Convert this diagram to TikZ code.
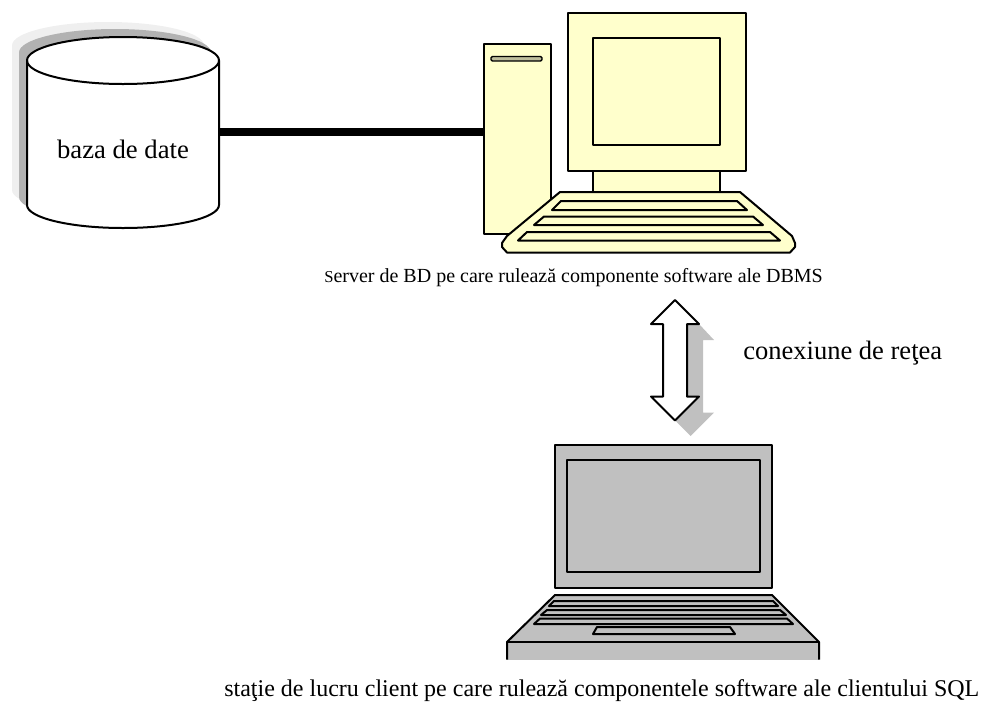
\documentclass[tikz,border=0pt]{standalone}
\usepackage{fontspec}
\setmainfont{Liberation Serif}
\definecolor{sand}{HTML}{FFFFCC}
\definecolor{slot}{HTML}{BDBD9C}
\definecolor{lapgray}{HTML}{C0C0C0}
\definecolor{shadowgray}{HTML}{B2B2B2}
\definecolor{shadowlight}{HTML}{EFEFEF}
\tikzset{
 part/.style={draw=black,line width=1.5pt,line join=round},
 srv/.style={part,fill=sand},
 lap/.style={part,fill=lapgray},
 label/.style={inner sep=0pt,anchor=base,text=black},
}
\newcommand{\dbshape}{(27,60.5) arc[x radius=96,y radius=23.5,start angle=180,end angle=360] -- (219,205) arc[x radius=96,y radius=23,start angle=0,end angle=180] -- cycle}
\begin{document}
\begin{tikzpicture}[x=0.75pt,y=-0.75pt]
\useasboundingbox (0,0) rectangle (981,701);
% database
\fill[shadowlight,yshift=11.25pt,xshift=-11.25pt] \dbshape;
\fill[shadowgray,yshift=6pt,xshift=-6pt] \dbshape;
\draw[part,fill=white] \dbshape;
\draw[part] (27,60.5) arc[x radius=96,y radius=23.5,start angle=180,end angle=0];
\coordinate (dbr) at (219,132);
\node[label,font=\fontsize{20}{22}\selectfont] (dbl) at (123,158) {baza de date};
% server
\node[srv,minimum width=50.25pt,minimum height=142.5pt,inner sep=0pt,anchor=north west] (tower) at (483,43) {};
\draw[line width=5.4pt] (dbr) -- (tower.west |- dbr);
\draw[part,line width=1.1pt,fill=slot,rounded corners=1pt] (491,56.5) rectangle (542,61);
\draw[srv] (593,165) rectangle (720,195);
\draw[srv] (568,12.5) rectangle (745.5,170.5);
\draw[srv] (593,38) rectangle (720,144.5);
\draw[srv] (560,192) -- (740,192) -- (792,236) -- (795,243) -- (795,247) -- (790,252.5) -- (507,252.5) -- (502,247) -- (502,243) -- (507,236) -- cycle;
\draw[srv] (552,210) -- (561,201) -- (737,201) -- (747,210) -- cycle;
\draw[srv] (534,225) -- (544,216.5) -- (753,216.5) -- (763,225) -- cycle;
\draw[srv] (518,240.5) -- (527,232) -- (770,232) -- (780,240.5) -- cycle;
\node[label,anchor=base west,font=\fontsize{15}{17}\selectfont] (srvl) at (324,282) {{\fontsize{12.5}{14}\selectfont S}erver de BD pe care rulează componente software ale DBMS};
% arrow
\fill[lapgray] (699,324) -- (714,340) -- (703,340) -- (703,412.7) -- (714,412.7) -- (690.7,436) -- (675,420.5) -- (687,321) -- cycle;
\draw[part,fill=white] (675,300) -- (699,324) -- (687,324) -- (687,396.5) -- (699,396.5) -- (675,420.5) -- (651,396.5) -- (663,396.5) -- (663,324) -- (651,324) -- cycle;
\node[label,font=\fontsize{19.9}{22}\selectfont,anchor=base west] (netl) at (743,359) {conexiune de reţea};
% laptop
\draw[lap] (555,444.5) rectangle (772,588);
\draw[lap] (567,460) rectangle (760,572);
\fill[lapgray] (507,642) rectangle (819,659.5);
\draw[lap] (507,659.5) -- (507,642) -- (555,595) -- (772,595) -- (819,642) -- (819,659.5);
\draw[part] (507,642) -- (819,642);
\draw[lap] (549,606) -- (554,601) -- (773,601) -- (778,606) -- cycle;
\draw[lap] (541,615) -- (547,610) -- (780,610) -- (786,615) -- cycle;
\draw[lap] (534,624) -- (540,618.5) -- (787,618.5) -- (793,624) -- cycle;
\draw[lap] (593,634) -- (597,627) -- (730,627) -- (735,634) -- cycle;
\node[label,anchor=base west,font=\fontsize{18}{20}\selectfont] (lapl) at (224,696.5) {staţie de lucru client pe care rulează componentele software ale clientului SQL};
\end{tikzpicture}
\end{document}
